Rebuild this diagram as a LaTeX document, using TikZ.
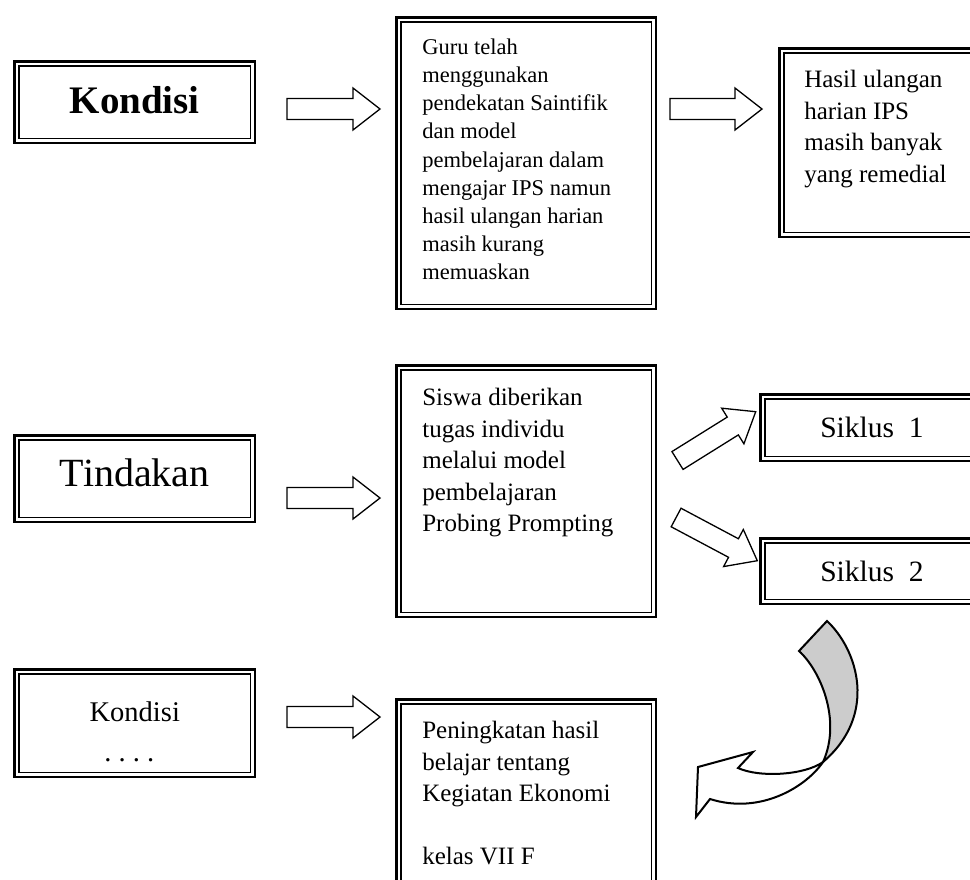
\documentclass[tikz,border=0pt]{standalone}
\usepackage{fontspec}
\setmainfont{Liberation Serif}
\usetikzlibrary{calc}
\tikzset{
	frame/.style={draw,line width=2.6pt,inner sep=0pt,anchor=north west,
		path picture={\draw[line width=1.4pt] ([shift={(4.5pt,-4.5pt)}]path picture bounding box.north west) rectangle ([shift={(-4.5pt,4.5pt)}]path picture bounding box.south east);}},
	blockarr/.style={draw,line width=1.3pt,fill=white,line join=miter},
	bendarr/.style={draw,line width=2pt,line join=miter},
}
\newcommand{\boxtext}[5]{\begin{minipage}[b][#2][t]{#1}\vspace*{#3}#4\strut#5\end{minipage}}
\newcommand{\blockarrow}[2]{%
	\coordinate (bh) at ($(#2)!27pt!(#1)$);
	\draw[blockarr] ($(#1)!10.5pt!90:(#2)$) -- ($(bh)!10.5pt!90:(#2)$) -- ($(bh)!21pt!90:(#2)$) -- (#2) -- ($(bh)!21pt!-90:(#2)$) -- ($(bh)!10.5pt!-90:(#2)$) -- ($(#1)!10.5pt!-90:(#2)$) -- cycle;}

\begin{document}
\begin{tikzpicture}[x=1pt,y=-1pt]
	\useasboundingbox (0,0) rectangle (970,879);
	\clip (0,0) rectangle (970,879);
	% first row
	\node[frame,font=\fontsize{39}{47}\selectfont\bfseries] (kondisi) at (13.3,60.3) {\boxtext{240.4pt}{81.4pt}{18.5pt}{\centering}{Kondisi}};
	\node[frame,font=\fontsize{22.5}{28.2}\selectfont] (guru) at (395.3,16.3) {\boxtext{259.4pt}{291.4pt}{17pt}{\raggedright\leftskip=25.7pt\relax}{Guru telah\\ menggunakan\\ pendekatan Saintifik\\ dan model\\ pembelajaran dalam\\ mengajar IPS namun\\ hasil ulangan harian\\ masih kurang\\ memuaskan}};
	\node[frame,font=\fontsize{25}{31.5}\selectfont] (hasil) at (778.3,47.3) {\boxtext{220pt}{188.4pt}{17.2pt}{\raggedright\leftskip=24.7pt\relax}{Hasil ulangan\\ harian IPS\\ masih banyak\\ yang remedial}};
	% second row
	\node[frame,font=\fontsize{40}{48}\selectfont] (tindakan) at (13.3,434.3) {\boxtext{240.4pt}{86.4pt}{17.1pt}{\centering}{Tindakan}};
	\node[frame,font=\fontsize{25}{31.5}\selectfont] (siswa) at (395.3,364.3) {\boxtext{259.4pt}{251.4pt}{18.1pt}{\raggedright\leftskip=25.7pt\relax}{Siswa diberikan\\ tugas individu\\ melalui model\\ pembelajaran\\ Probing Prompting}};
	\node[frame,font=\fontsize{29.5}{35.4}\selectfont] (siklusA) at (759.3,393.3) {\boxtext{239.4pt}{66.4pt}{18.6pt}{\raggedright\leftskip=59.7pt\relax}{Siklus~~1}};
	\node[frame,font=\fontsize{29.5}{35.4}\selectfont] (siklusB) at (759.3,537.3) {\boxtext{239.4pt}{65.4pt}{18.6pt}{\raggedright\leftskip=59.7pt\relax}{Siklus~~2}};
	% third row
	\node[frame,font=\fontsize{28.5}{40}\selectfont] (kondisiakhir) at (13.3,668.3) {\boxtext{240.4pt}{107.4pt}{23.7pt}{\centering}{Kondisi\\ .\ .\ .\ .\hspace*{11pt}}};
	\node[frame,font=\fontsize{25}{31.5}\selectfont] (peningkatan) at (395.3,698.3) {\boxtext{259.4pt}{210.4pt}{17.2pt}{\raggedright\leftskip=25.7pt\relax}{Peningkatan hasil\\ belajar tentang\\ Kegiatan Ekonomi\\[31.5pt] kelas VII F}};
	% block arrows
	\coordinate (a1) at (287,109); \coordinate (b1) at (380,109);
	\coordinate (a2) at (670,109); \coordinate (b2) at (762,109);
	\coordinate (a3) at (287,498); \coordinate (b3) at (380,498);
	\coordinate (a4) at (677.5,460.5); \coordinate (b4) at (755.7,411.7);
	\coordinate (a5) at (676.1,517.5); \coordinate (b5) at (757.3,560.7);
	\coordinate (a6) at (287,717); \coordinate (b6) at (380,717);
	\blockarrow{a1}{b1}
	\blockarrow{a2}{b2}
	\blockarrow{a3}{b3}
	\blockarrow{a4}{b4}
	\blockarrow{a5}{b5}
	\blockarrow{a6}{b6}
	% curved arrow back from Siklus 2
	\filldraw[bendarr,fill=black!20] (799,651) -- (827,621) .. controls (858,650) and (878,715) .. (823,762) .. controls (842,720) and (820,670) .. cycle;
	\filldraw[bendarr,fill=white] (823,762) .. controls (806,787) and (760,815) .. (710,799) -- (696,817) -- (698,767) -- (753,752) -- (738,768) .. controls (760,778) and (805,775) .. cycle;
\end{tikzpicture}
\end{document}
